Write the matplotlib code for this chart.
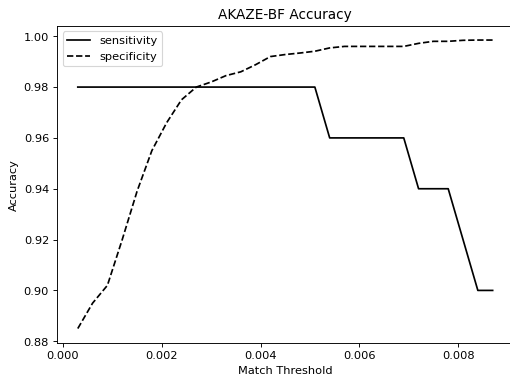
import matplotlib
matplotlib.use("Agg")
import matplotlib.pyplot as plt

# match thresholds and accuracy values
thresholds = [0.0003, 0.0006, 0.0009, 0.0012, 0.0015, 0.0018, 0.0021, 0.0024,
              0.0027, 0.0030, 0.0033, 0.0036, 0.0039, 0.0042, 0.0045, 0.0048,
              0.0051, 0.0054, 0.0057, 0.0060, 0.0063, 0.0066, 0.0069, 0.0072,
              0.0075, 0.0078, 0.0081, 0.0084, 0.0087]
sensitivity = [0.98, 0.98, 0.98, 0.98, 0.98, 0.98, 0.98, 0.98,
               0.98, 0.98, 0.98, 0.98, 0.98, 0.98, 0.98, 0.98,
               0.98, 0.96, 0.96, 0.96, 0.96, 0.96, 0.96, 0.94,
               0.94, 0.94, 0.92, 0.90, 0.90]
specificity = [0.885, 0.895, 0.902, 0.920, 0.939, 0.955, 0.966, 0.975,
               0.980, 0.982, 0.9845, 0.986, 0.9888, 0.992, 0.9928, 0.9934,
               0.9941, 0.9954, 0.996, 0.996, 0.996, 0.996, 0.996, 0.9972,
               0.998, 0.998, 0.9984, 0.9985, 0.9985]

dpi = 82
fig = plt.figure(figsize=(510.4 / dpi, 378.4 / dpi), dpi=dpi)
# right spine sits just past the image edge in the reference
ax = fig.add_axes([57 / 510, (378 - 343) / 378, 456 / 510, 317 / 378])

ax.plot(thresholds, sensitivity, "k-", label="sensitivity")
ax.plot(thresholds, specificity, "k--", label="specificity")
ax.set_title("AKAZE-BF Accuracy")
ax.set_xlabel("Match Threshold")
ax.set_ylabel("Accuracy")
ax.legend(loc="upper left")

fig.savefig("out.png", dpi=dpi)
